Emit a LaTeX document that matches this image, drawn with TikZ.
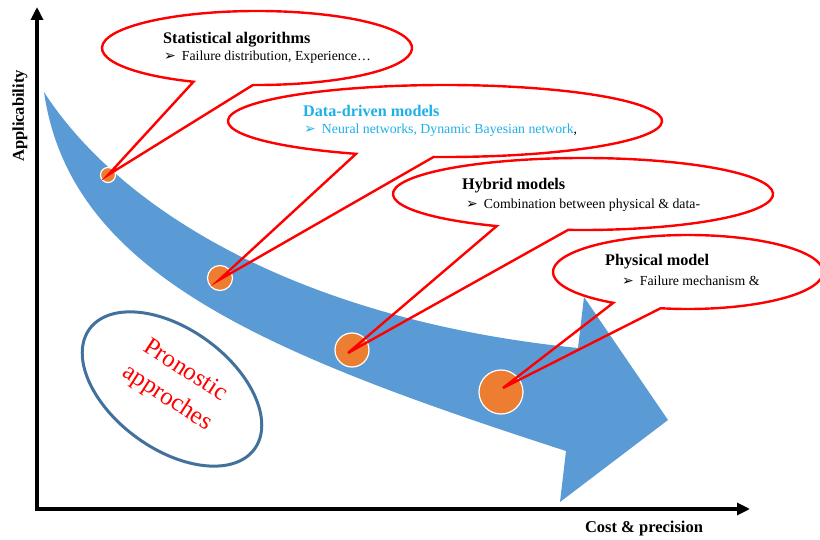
\documentclass[tikz,border=0pt]{standalone}
\usepackage{fontspec}
\setmainfont{Liberation Serif}
\newfontfamily\dingfont{DejaVu Sans}
\usetikzlibrary{arrows.meta}

\definecolor{bandblue}{HTML}{5B9BD5}
\definecolor{dotorange}{HTML}{ED7D31}
\definecolor{ringblue}{HTML}{41719C}
\definecolor{titlecyan}{HTML}{1FB0E8}

% oval callout: centre, radii, start/end angle of the outline arc, tip
\newcommand{\ovalcallout}[7]{%
  \fill[white] (#1,#2) ellipse [x radius=#3, y radius=#4];
  \draw[calloutline] ({#1+#3*cos(#5)},{#2+#4*sin(#5)})
    arc[start angle=#5, end angle=#6+360, x radius=#3, y radius=#4]
    -- (#7) -- cycle;}
\newcommand{\bulletmark}{{\dingfont\fontsize{14}{15}\selectfont ➢}\hspace{6pt}}

\begin{document}
\begin{tikzpicture}[x=1pt,y=-1pt,
  axisline/.style={line width=3.2pt,-{Triangle[length=13pt,width=12pt]}},
  axislabel/.style={font=\bfseries\fontsize{16.5}{18}\selectfont},
  dot/.style={circle,fill=dotorange,draw=white,line width=1.2pt,inner sep=0pt},
  calloutline/.style={draw=red,line width=2.4pt,line join=miter},
  ctitle/.style={anchor=west,inner sep=0pt,font=\bfseries\fontsize{16.2}{18}\selectfont},
  citem/.style={anchor=west,inner sep=0pt,font=\fontsize{13.8}{15}\selectfont},
]
\useasboundingbox (0,0) rectangle (820,540);

% axes
\coordinate (O) at (37,509);
\coordinate (Ytip) at (37,7);
\coordinate (Xtip) at (750,509);
\draw[axisline] ([yshift=1.6pt]O) -- (Ytip);
\draw[axisline] ([xshift=-1.6pt]O) -- (Xtip);
\node[axislabel,rotate=90] (ylab) at (20,116) {Applicability};
\node[axislabel] (xlab) at (644,529) {Cost \& precision};

% curved arrow
\fill[bandblue]
  (44,92) .. controls (120,210) and (300,320) .. (578,348)
  -- (584,297) -- (668,420) -- (560,502) -- (566,451)
  .. controls (260,352) and (70,272) .. (44,92)
  -- cycle;

% milestones on the arrow
\node[dot,minimum size=15pt] (d1) at (108,175) {};
\node[dot,minimum size=25pt] (d2) at (220,278) {};
\node[dot,minimum size=34pt] (d3) at (352,350) {};
\node[dot,minimum size=44pt] (d4) at (501,392) {};
\coordinate (t1) at (108,175);
\coordinate (t2) at (219,280);
\coordinate (t3) at (348,353);
\coordinate (t4) at (503,388);

% callouts
\ovalcallout{257}{48}{155}{37}{114.2}{91.5}{t1}
\ovalcallout{445}{121}{217}{36}{114.2}{93}{t2}
\ovalcallout{583}{194}{190}{36}{117}{94.5}{t3}
\ovalcallout{688}{272}{135}{37}{123.6}{101.7}{t4}

\node[ctitle] (s1) at (163,40) {Statistical algorithms};
\node[citem] (s2) at (164,57) {\bulletmark Failure distribution, Experience…};

\node[ctitle,text=titlecyan] (dd1) at (303,111) {Data-driven models};
\node[citem,text=titlecyan] (dd2) at (304,130) {\bulletmark Neural networks, Dynamic Bayesian network\textcolor{black}{,}};

\node[ctitle] (h1) at (462,186) {Hybrid models};
\node[citem] (h2) at (466,205) {\bulletmark Combination between physical \& data-};

\node[ctitle] (p1) at (605,262) {Physical model};
\node[citem] (p2) at (622,281) {\bulletmark Failure mechanism \&};

% label ellipse
\draw[ringblue,line width=3pt,rotate around={-36:(172,389)}] (172,389) ellipse [x radius=102, y radius=60];
\node[text=red,rotate=-33,align=center,font=\fontsize{25}{33}\selectfont] (pa) at (176,385) {Pronostic\\approches};
\end{tikzpicture}
\end{document}
